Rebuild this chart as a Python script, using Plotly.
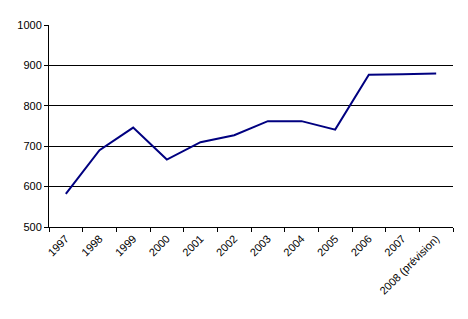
import plotly.graph_objects as go

years = ["1997", "1998", "1999", "2000", "2001", "2002", "2003", "2004", "2005",
         "2006", "2007", "2008 (prévision)"]
values = [582, 690, 746, 667, 710, 727, 762, 762, 741, 877, 878, 880]

fig = go.Figure(go.Scatter(x=years, y=values, mode="lines",
                           line=dict(color="#000080", width=2)))

fig.update_layout(
    width=468, height=319,
    margin=dict(l=49, r=15, t=25, b=92),
    paper_bgcolor="white", plot_bgcolor="white",
    showlegend=False,
    font=dict(family="Liberation Sans, Arial, sans-serif", size=11, color="black"),
)
fig.update_xaxes(
    type="category", tickangle=-45, tickson="boundaries",
    range=[-0.5, len(years) - 0.5],
    showline=True, linecolor="black", linewidth=1,
    ticks="outside", ticklen=4, tickcolor="black",
    showgrid=False, tickfont=dict(size=11),
)
fig.update_yaxes(
    range=[500, 1000], dtick=100,
    showline=True, linecolor="black", linewidth=1,
    ticks="outside", ticklen=4, tickcolor="black",
    showgrid=True, gridcolor="black", gridwidth=1,
    zeroline=False, tickfont=dict(size=11),
)

fig.write_html("out.html")
